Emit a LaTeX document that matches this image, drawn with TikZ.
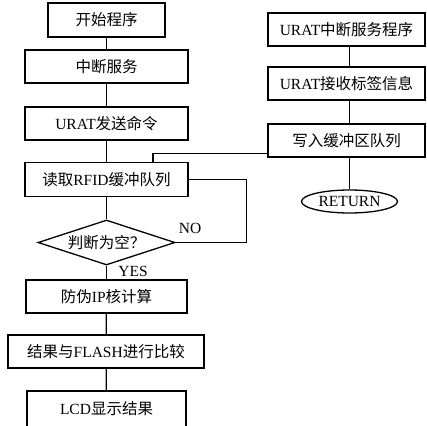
\documentclass[tikz,border=0pt]{standalone}
\usepackage{fontspec}
\setmainfont{Liberation Serif}
\newfontfamily\cjk{Noto Sans CJK SC}
\newcommand\zh[1]{{\cjk #1}}
\usetikzlibrary{shapes.geometric}
\begin{document}
\begin{tikzpicture}[x=1pt,y=-1pt,
  every node/.style={font=\fontsize{15.5}{17}\selectfont, inner sep=0pt},
  box/.style={draw, line width=1.3pt, rectangle, minimum height=33pt},
  conn/.style={line width=1.3pt},
  lbl/.style={font=\fontsize{15.5}{17}\selectfont}]
\useasboundingbox (0,0) rectangle (427,425);
% left column
\node[box, minimum width=117pt, minimum height=34pt] (start) at (106.5,20) {\zh{开始程序}};
\node[box, minimum width=163pt] (int) at (106.5,66.5) {\zh{中断服务}};
\node[box, minimum width=163pt] (send) at (106.5,123.5) {URAT\zh{发送命令}};
\node[box, minimum width=163pt, minimum height=34pt] (read) at (106.5,179.5) {\zh{读取}RFID\zh{缓冲队列}};
\node[draw, line width=1.3pt, diamond, aspect=3, minimum width=137pt, minimum height=45pt] (dia) at (106.5,242.5) {\zh{判断为空？}};
\node[box, minimum width=161pt] (ip) at (106.5,296.5) {\zh{防伪}IP\zh{核计算}};
\node[box, minimum width=196pt] (flash) at (106,351.5) {\zh{结果与}FLASH\zh{进行比较}};
\node[box, minimum width=159pt, minimum height=36pt] (lcd) at (106.5,409) {LCD\zh{显示结果}};
% right column
\node[box, minimum width=157pt] (r1) at (346.5,29.5) {URAT\zh{中断服务程序}};
\node[box, minimum width=157pt] (r2) at (346.5,83.5) {URAT\zh{接收标签信息}};
\node[box, minimum width=157pt] (r3) at (346.5,140.5) {\zh{写入缓冲区队列}};
\node[draw, line width=1.3pt, ellipse, minimum width=96pt, minimum height=23pt] (ret) at (349.5,201.5) {RETURN};
% labels
\node[lbl] (no) at (190,228) {NO};
\node[lbl] (yes) at (133,271) {YES};
% connectors
\draw[conn] (start) -- (int);
\draw[conn] (int) -- (send);
\draw[conn] (send) -- (read);
\draw[conn] (read) -- (dia);
\draw[conn] (dia) -- (ip);
\draw[conn] (ip) -- (flash);
\draw[conn] (flash) -- (lcd);
\draw[conn] (read.east) -- ++(58,0) |- (dia.east);
\draw[conn] ([yshift=4pt]r3.south west) -| ([xshift=46.5pt]read.north);
\draw[conn] (r1.south -| ret) -- (r2.north -| ret);
\draw[conn] (r2.south -| ret) -- (r3.north -| ret);
\draw[conn] (r3.south -| ret) -- (ret.north);
\end{tikzpicture}
\end{document}
